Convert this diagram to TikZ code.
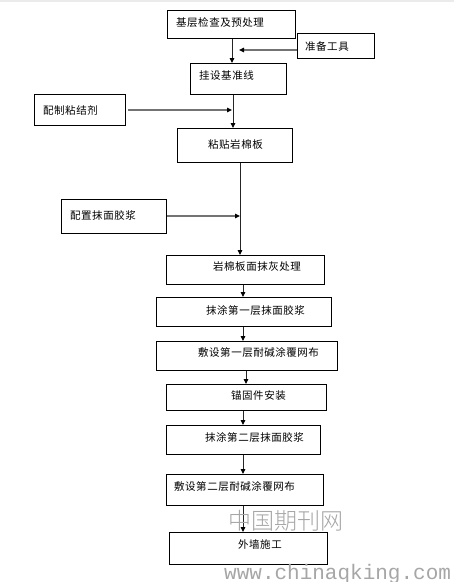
\documentclass[tikz,border=0pt]{standalone}
\usepackage{fontspec}
\setmainfont{Liberation Sans}
\newfontfamily\cjk[LetterSpace=5]{Noto Sans CJK SC}
\newfontfamily\cjkwm{Noto Sans CJK SC Light}
\newfontfamily\monowm{Liberation Mono}
\usetikzlibrary{arrows.meta}
\begin{document}
\begin{tikzpicture}[x=1pt,y=-1pt,
  box/.style={draw=black,line width=1pt,anchor=north west,inner sep=0pt},
  lbl/.style={anchor=west,inner sep=0pt,font=\cjk\fontsize{10.5}{12}\selectfont},
  varr/.style={draw=black!85,line width=0.9pt,-{Triangle[length=5pt,width=4.5pt,color=black]}},
  harr/.style={draw=black!55,line width=1.4pt,-{Triangle[length=5pt,width=4.5pt,color=black]}},
  wm/.style={text=black!35,inner sep=0pt}]
\useasboundingbox (0,0) rectangle (454,582);
\fill[black!8] (0,0) rectangle (454,2);
% boxes
\node[box,minimum width=128pt,minimum height=28pt] (b1) at (167,10) {};
\node[box,minimum width=77pt,minimum height=25pt] (b2) at (297,33) {};
\node[box,minimum width=96pt,minimum height=31pt] (b3) at (190,63) {};
\node[box,minimum width=91pt,minimum height=31pt] (b4) at (34,94) {};
\node[box,minimum width=115pt,minimum height=34pt] (b5) at (177,128) {};
\node[box,minimum width=105pt,minimum height=34pt] (b6) at (61,199) {};
\node[box,minimum width=158pt,minimum height=29pt] (b7) at (166,255) {};
\node[box,minimum width=175pt,minimum height=29pt] (b8) at (156,297) {};
\node[box,minimum width=181pt,minimum height=29pt] (b9) at (156,341) {};
\node[box,minimum width=160pt,minimum height=26pt] (b10) at (166,384) {};
\node[box,minimum width=154pt,minimum height=29pt] (b11) at (166,425) {};
\node[box,minimum width=157pt,minimum height=31pt] (b12) at (166,474) {};
\node[box,minimum width=158pt,minimum height=32pt] (b13) at (169,532) {};
% labels
\node[lbl] (t1) at (176,23) {基层检查及预处理};
\node[lbl] (t2) at (305,46) {准备工具};
\node[lbl] (t3) at (199,76) {挂设基准线};
\node[lbl] (t4) at (43,110) {配制粘结剂};
\node[lbl] (t5) at (208,145) {粘贴岩棉板};
\node[lbl] (t6) at (70,216) {配置抹面胶浆};
\node[lbl] (t7) at (213,267) {岩棉板面抹灰处理};
\node[lbl] (t8) at (206,311) {抹涂第一层抹面胶浆};
\node[lbl] (t9) at (198,353) {敷设第一层耐碱涂覆网布};
\node[lbl] (t10) at (231,396) {锚固件安装};
\node[lbl] (t11) at (205,438) {抹涂第二层抹面胶浆};
\node[lbl] (t12) at (174,487) {敷设第二层耐碱涂覆网布};
\node[lbl] (t13) at (238,544) {外墙施工};
% free ends
\coordinate (m1) at (239,50);
\coordinate (m2) at (232,110);
\coordinate (m3) at (240,216);
% connectors
\draw[varr] (b1.south -| 232,0) -- (b3.north -| 232,0);
\draw[harr] (b2.west |- 0,50) -- (m1);
\draw[varr] (b3.south -| 233,0) -- (b5.north -| 233,0);
\draw[harr] ([xshift=2pt]b4.east |- 0,110) -- (m2);
\draw[varr] (b5.south -| 240,0) -- (b7.north -| 240,0);
\draw[harr] (b6.east |- 0,216) -- (m3);
\draw[varr] (b7.south -| 243,0) -- (b8.north -| 243,0);
\draw[varr] (b8.south -| 243,0) -- (b9.north -| 243,0);
\draw[varr] (b9.south -| 246,0) -- (b10.north -| 246,0);
\draw[varr] (b10.south -| 243,0) -- (b11.north -| 243,0);
\draw[varr] (b11.south -| 243,0) -- (b12.north -| 243,0);
\draw[varr] (b12.south -| 243,0) -- (b13.north -| 243,0);
% watermark
\node[wm,anchor=north west,font=\cjkwm\fontsize{23}{24}\selectfont] (w1) at (228,510) {中国期刊网};
\node[wm,anchor=base west,font=\monowm\fontsize{21}{22}\selectfont] (w2) at (224,579) {www.chinaqking.com};
\end{tikzpicture}
\end{document}
